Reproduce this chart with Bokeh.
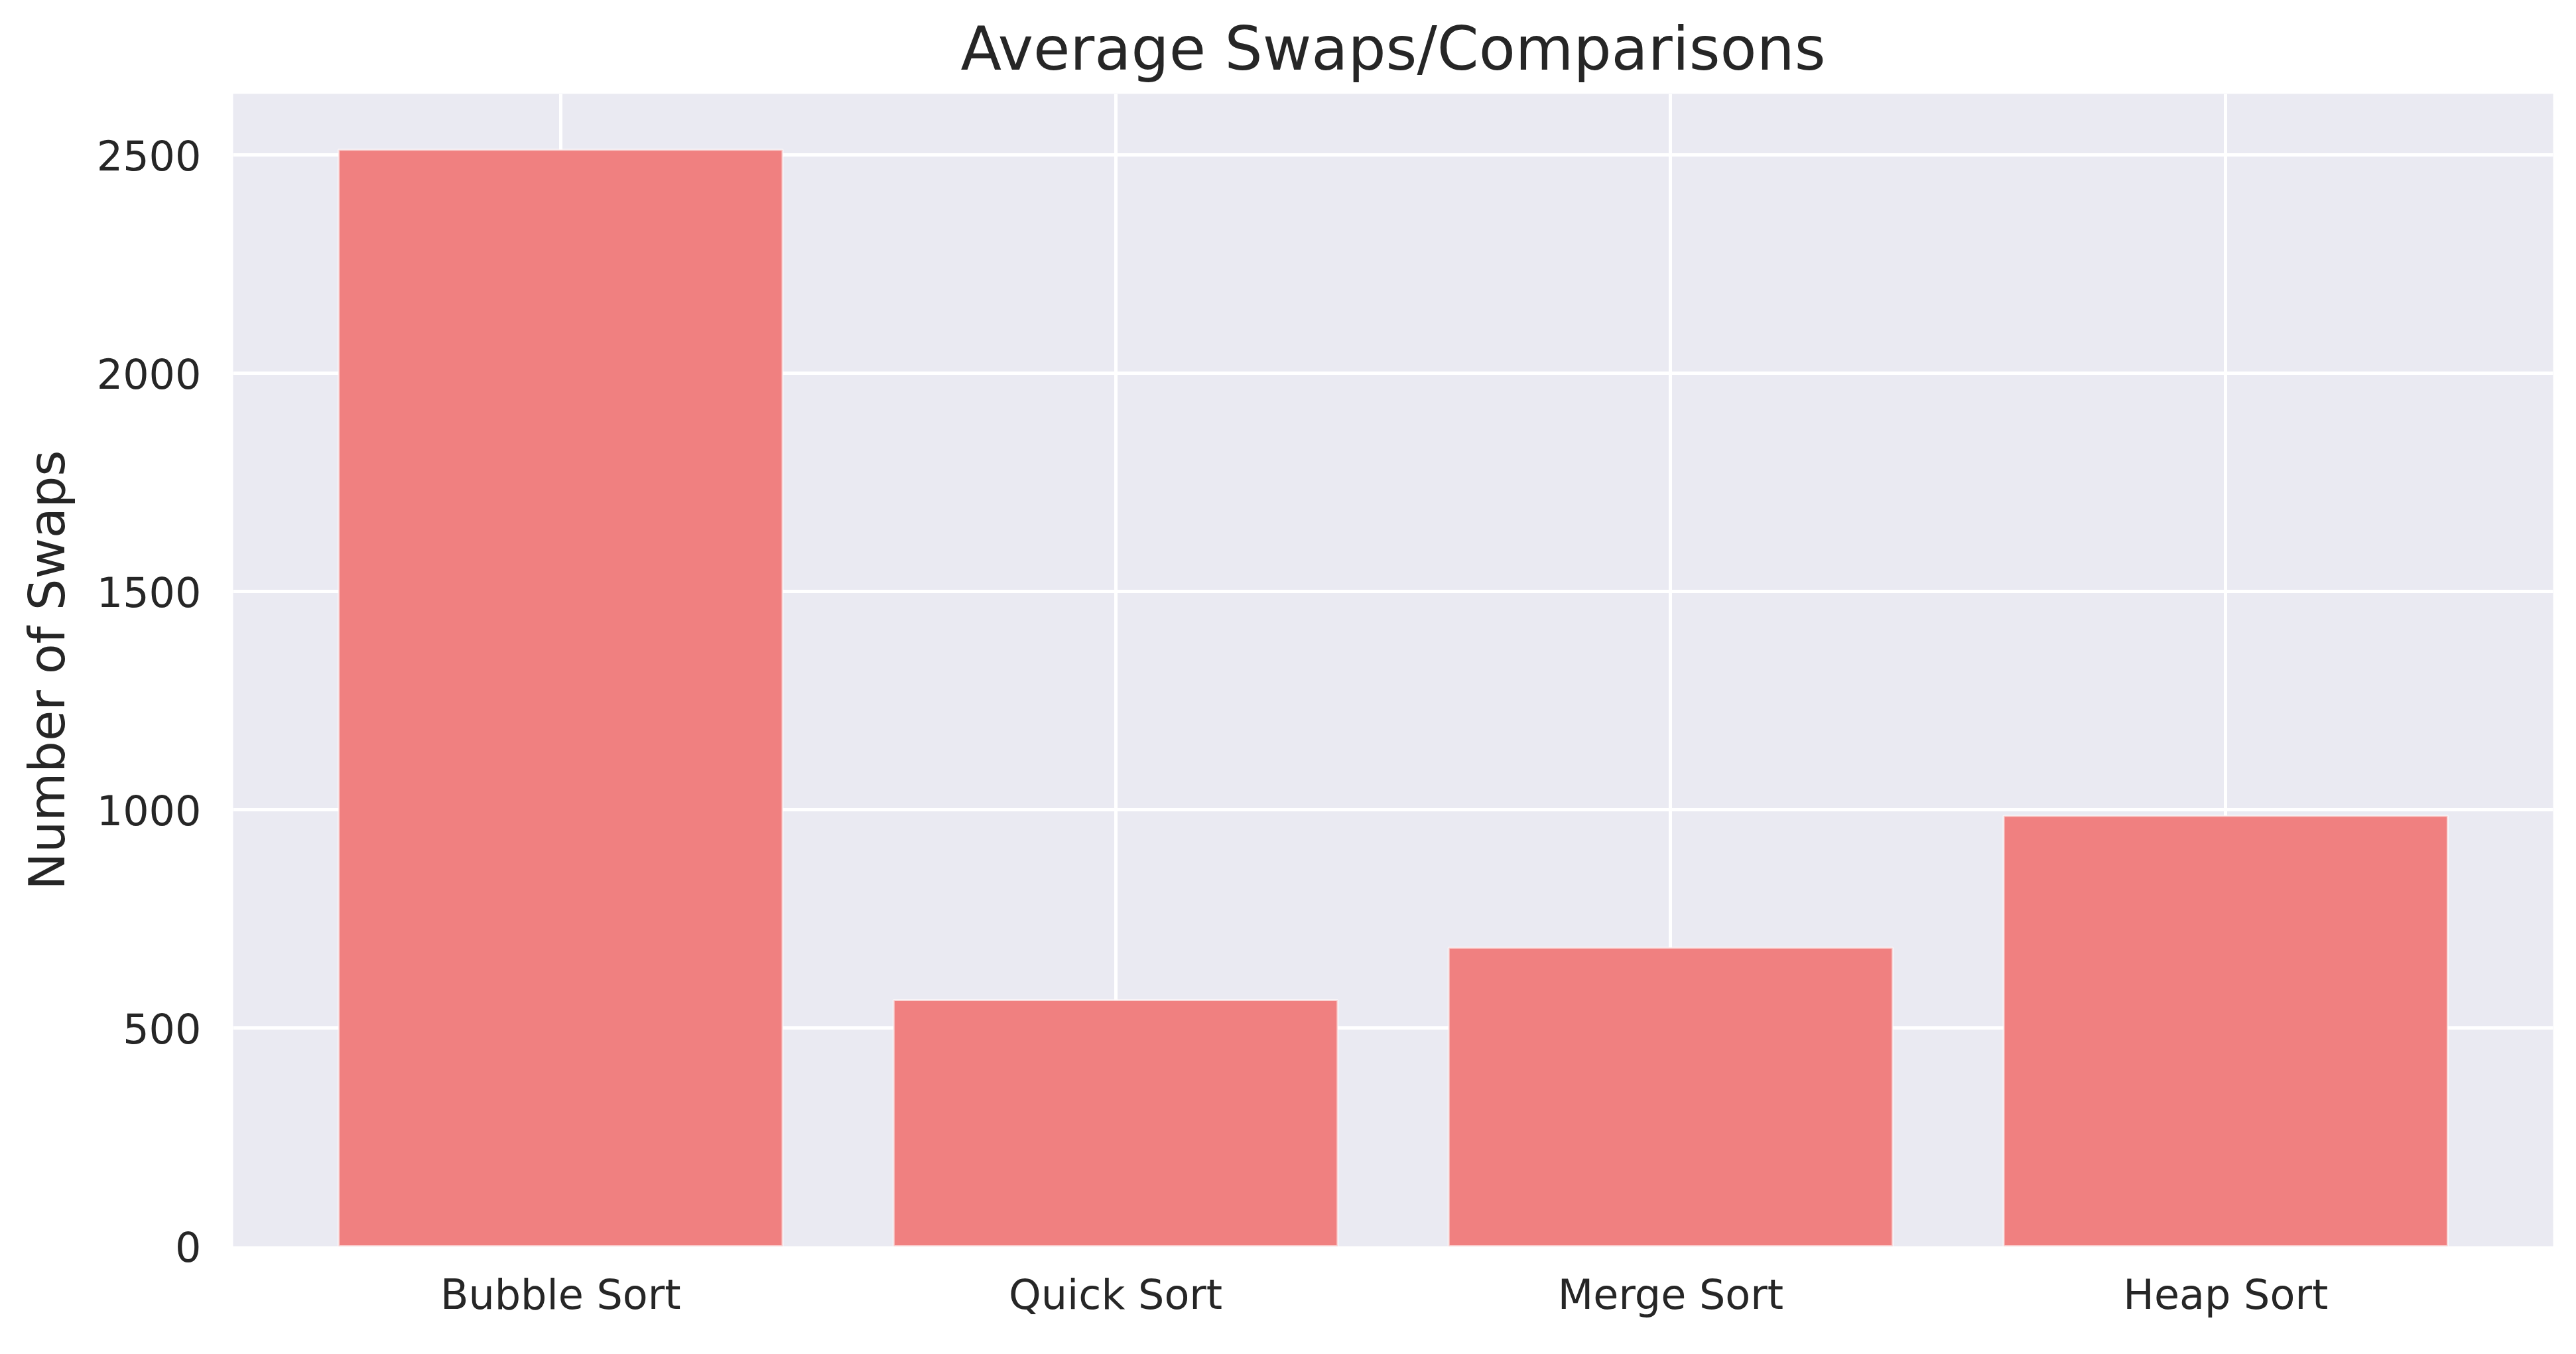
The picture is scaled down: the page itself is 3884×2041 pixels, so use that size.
from bokeh.plotting import figure
from bokeh.models import FactorRange, Range1d, FixedTicker, ColumnDataSource
from bokeh.embed import file_html
from bokeh.resources import INLINE

algorithms = ["Bubble Sort", "Quick Sort", "Merge Sort", "Heap Sort"]
avg_swaps = [2512, 564, 684, 986]
y_ticks = [0, 500, 1000, 1500, 2000, 2500]

src = ColumnDataSource(dict(alg=algorithms, swaps=avg_swaps))

TEXT = "#262626"
FONT = "DejaVu Sans"

p = figure(
    width=3874, height=2030,
    x_range=FactorRange(factors=algorithms, range_padding=0.045, range_padding_units="percent"),
    y_range=Range1d(0, 2640),
    output_backend="svg", toolbar_location=None,
    min_border_left=351, min_border_right=25, min_border_top=141, min_border_bottom=152,
    background_fill_color="#EAEAF2", border_fill_color="white",
    title="Average Swaps/Comparisons",
)
p.outline_line_color = None

p.vbar(x="alg", top="swaps", width=0.8, source=src,
       fill_color="#F08080", line_color="white", line_width=3, line_alpha=0.6)

p.title.text_font = FONT
p.title.text_font_size = "90px"
p.title.text_font_style = "normal"
p.title.text_color = TEXT
p.title.align = "center"
p.title.standoff = 32

for ax in (p.xaxis[0], p.yaxis[0]):
    ax.axis_line_color = None
    ax.major_tick_line_color = None
    ax.minor_tick_line_color = None
    ax.major_tick_out = 0
    ax.major_tick_in = 0
    ax.minor_tick_out = 0
    ax.major_label_text_font = FONT
    ax.major_label_text_font_size = "62px"
    ax.major_label_text_color = TEXT

p.yaxis[0].ticker = FixedTicker(ticks=y_ticks)
p.yaxis[0].major_label_standoff = 48
p.yaxis[0].axis_label = "Number of Swaps"
p.yaxis[0].axis_label_text_font = FONT
p.yaxis[0].axis_label_text_font_size = "75px"
p.yaxis[0].axis_label_text_font_style = "normal"
p.yaxis[0].axis_label_text_color = TEXT
p.yaxis[0].axis_label_standoff = 28
p.xaxis[0].major_label_standoff = 36

p.xgrid.grid_line_color = "white"
p.xgrid.grid_line_width = 5
p.ygrid.grid_line_color = "white"
p.ygrid.grid_line_width = 5

open("out.html", "w").write(file_html(p, INLINE))
